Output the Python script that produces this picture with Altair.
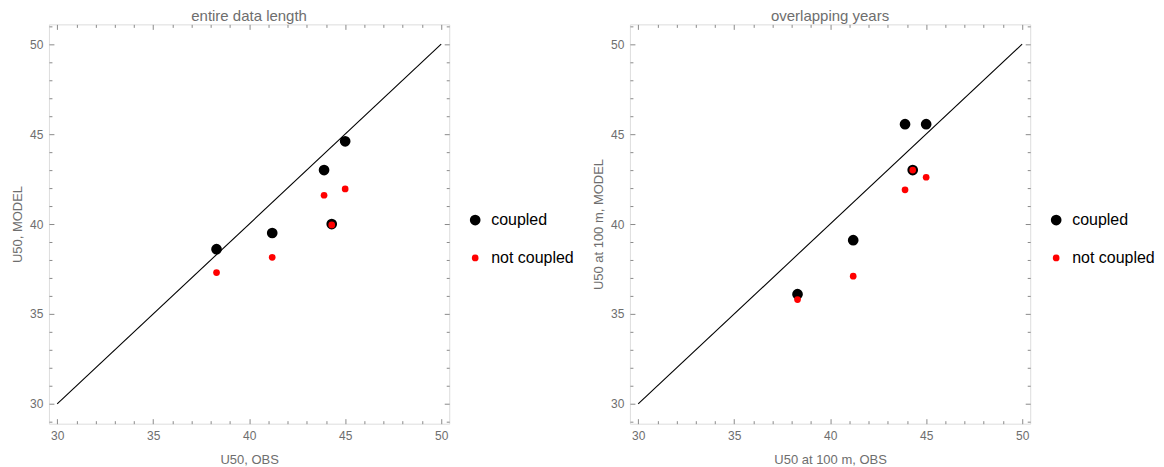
import altair as alt
import pandas as pd

# ---- data ----
series_names = ["coupled", "not coupled"]
obs = [38.3, 41.2, 43.9, 45.0, 44.3]

# panel 1: entire data length
model_all_coupled = [38.6, 39.5, 43.0, 44.6, 40.0]
model_all_not_coupled = [37.3, 38.15, 41.6, 41.95, 39.95]

# panel 2: overlapping years
model_ovl_coupled = [36.1, 39.1, 45.55, 45.55, 43.0]
model_ovl_not_coupled = [35.8, 37.1, 41.9, 42.6, 43.0]

one_to_one = [30, 50]
x_ticks = list(range(30, 51))
y_ticks = list(range(29, 52))

GRAY = "#8a8a8a"
TEXT = "#6e6e6e"
FONT = "Liberation Sans"

tick_size = {"expr": "datum.value % 5 === 0 ? -5 : -3"}
label_expr = "datum.value % 5 === 0 ? datum.label : ''"


def points_frame(model_c, model_nc):
    rows = []
    for o, m in zip(obs, model_c):
        rows.append({"obs": o, "model": m, "series": series_names[0]})
    for o, m in zip(obs, model_nc):
        rows.append({"obs": o, "model": m, "series": series_names[1]})
    return pd.DataFrame(rows)


def panel(title, xtitle, ytitle, model_c, model_nc):
    xs = alt.Scale(domain=[29.57, 50.42], nice=False, zero=False)
    ys = alt.Scale(domain=[28.9, 51.1], nice=False, zero=False)

    line_df = pd.DataFrame({"obs": one_to_one, "model": one_to_one})
    line = alt.Chart(line_df).mark_line(color="black", strokeWidth=1.1).encode(
        x=alt.X("obs:Q", scale=xs, title=xtitle,
                axis=alt.Axis(orient="bottom", values=x_ticks, tickSize=tick_size,
                              labelExpr=label_expr, labelPadding=12, domain=False,
                              grid=False, tickColor=GRAY, labelColor=TEXT,
                              titleColor=TEXT, labelFontSize=12, titleFontSize=13,
                              titleFontWeight="normal", labelFont=FONT, titleFont=FONT,
                              titlePadding=12)),
        y=alt.Y("model:Q", scale=ys, title=ytitle,
                axis=alt.Axis(orient="left", values=y_ticks, tickSize=tick_size,
                              labelExpr=label_expr, labelPadding=11, domain=False,
                              grid=False, tickColor=GRAY, labelColor=TEXT,
                              titleColor=TEXT, labelFontSize=12, titleFontSize=13,
                              titleFontWeight="normal", labelFont=FONT, titleFont=FONT,
                              titlePadding=5)),
    )

    pts = alt.Chart(points_frame(model_c, model_nc)).mark_circle(opacity=1).encode(
        x=alt.X("obs:Q", scale=xs,
                axis=alt.Axis(orient="top", values=x_ticks, tickSize=tick_size,
                              labels=False, domain=False, grid=False, tickColor=GRAY,
                              title=None)),
        y=alt.Y("model:Q", scale=ys,
                axis=alt.Axis(orient="right", values=y_ticks, tickSize=tick_size,
                              labels=False, domain=False, grid=False, tickColor=GRAY,
                              title=None)),
        color=alt.Color("series:N",
                        scale=alt.Scale(domain=series_names, range=["black", "red"]),
                        legend=alt.Legend(title=None, orient="none", legendX=419,
                                          legendY=188, labelFontSize=16,
                                          labelColor="black", labelFont=FONT,
                                          rowPadding=22, labelOffset=8, padding=0)),
        size=alt.Size("series:N",
                      scale=alt.Scale(domain=series_names, range=[115, 45])),
        order=alt.Order("series:N", sort="ascending"),
    )

    return alt.layer(line, pts).resolve_axis(x="independent", y="independent").properties(
        width=401, height=400,
        title=alt.TitleParams(title, fontSize=15, color=TEXT, font=FONT,
                              fontWeight="normal", offset=0),
    )


left = panel("entire data length", "U50, OBS", "U50, MODEL",
             model_all_coupled, model_all_not_coupled)
right = panel("overlapping years", "U50 at 100 m, OBS", "U50 at 100 m, MODEL",
              model_ovl_coupled, model_ovl_not_coupled)

chart = alt.hconcat(left, right, spacing=17).resolve_scale(
    color="independent", size="independent"
).resolve_legend(color="independent", size="independent").properties(
    padding={"left": 3, "top": 0, "right": 0, "bottom": 0}
).configure_view(stroke=GRAY, strokeWidth=1.2).configure(background="white")

chart.save("out.html", embed_options={"renderer": "svg", "actions": False})
